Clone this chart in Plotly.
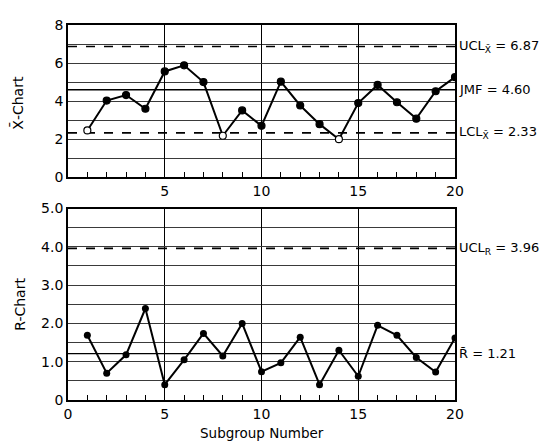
import plotly.graph_objects as go

# ---- data ----
subgroups = list(range(1, 21))
xbar_values = [2.46, 4.03, 4.32, 3.60, 5.56, 5.88, 5.00, 2.18, 3.51, 2.70,
               5.02, 3.77, 2.79, 2.00, 3.90, 4.85, 3.94, 3.08, 4.52, 5.26]
range_values = [1.69, 0.70, 1.18, 2.39, 0.40, 1.05, 1.74, 1.15, 2.00, 0.74,
                0.97, 1.64, 0.40, 1.30, 0.62, 1.95, 1.69, 1.11, 0.73, 1.62]
open_points = [1, 8, 14]
ucl_x = 6.87
jmf = 4.60
lcl_x = 2.33
ucl_r = 3.96
r_bar = 1.21

x_ticks_top = [5, 10, 15, 20]
x_ticks_bottom = [0, 5, 10, 15, 20]
x_minor_ticks = list(range(1, 20))
y_ticks_top = [0, 2, 4, 6, 8]
y_ticks_bottom = [0, 1, 2, 3, 4, 5]
y_ticktext_bottom = ["0", "1.0", "2.0", "3.0", "4.0", "5.0"]

FONT = "DejaVu Sans"
GRID = "#3a3a3a"

fig = go.Figure()

def hline(y, xa, ya, dash, width):
    fig.add_trace(go.Scatter(x=[0, 20], y=[y, y], mode="lines", xaxis=xa, yaxis=ya,
                             line=dict(color="black", width=width, dash=dash),
                             hoverinfo="skip", showlegend=False))

hline(ucl_x, "x", "y", "dash", 1.6)
hline(lcl_x, "x", "y", "dash", 1.6)
hline(jmf, "x", "y", "solid", 1.4)
hline(ucl_r, "x2", "y2", "dash", 1.6)
hline(r_bar, "x2", "y2", "solid", 1.4)

fill_top = ["white" if s in open_points else "black" for s in subgroups]
fig.add_trace(go.Scatter(x=subgroups, y=xbar_values, mode="lines+markers",
                         xaxis="x", yaxis="y",
                         line=dict(color="black", width=2),
                         marker=dict(size=7, color=fill_top, line=dict(color="black", width=1.2)),
                         showlegend=False))
fig.add_trace(go.Scatter(x=subgroups, y=range_values, mode="lines+markers",
                         xaxis="x2", yaxis="y2",
                         line=dict(color="black", width=2),
                         marker=dict(size=7, color="black"),
                         showlegend=False))

axis_common = dict(showline=True, mirror=True, linecolor="black", linewidth=1.8,
                   zeroline=False, tickfont=dict(family=FONT, size=14, color="black"))

xaxis_common = dict(axis_common, range=[0, 20], showgrid=True, gridcolor="black", gridwidth=1.2,
                    ticks="", ticklen=0,
                    minor=dict(tickmode="array", tickvals=x_minor_ticks, ticks="inside",
                               ticklen=5, tickcolor="black", tickwidth=1.4, showgrid=False))

# page body has an 8px margin, so the figure is sized/offset to compensate
fig.update_layout(
    width=545, height=434,
    margin=dict(l=60, r=98, t=9, b=42),
    paper_bgcolor="white", plot_bgcolor="white",
    font=dict(family=FONT, color="black"),
    xaxis=dict(xaxis_common, domain=[0, 1], anchor="y", tickvals=x_ticks_top),
    yaxis=dict(axis_common, domain=[0.594, 1], anchor="x", range=[0, 8],
               tickvals=y_ticks_top, showgrid=True, gridcolor=GRID, gridwidth=1.2, ticks="",
               minor=dict(dtick=1, showgrid=True, gridcolor=GRID, gridwidth=1.2)),
    xaxis2=dict(xaxis_common, domain=[0, 1], anchor="y2", tickvals=x_ticks_bottom),
    yaxis2=dict(axis_common, domain=[0, 0.5105], anchor="x2", range=[0, 5],
                tickvals=y_ticks_bottom, ticktext=y_ticktext_bottom,
                showgrid=True, gridcolor=GRID, gridwidth=1.2, ticks="",
                minor=dict(dtick=0.5, showgrid=True, gridcolor=GRID, gridwidth=1.2)),
)

ann_font = dict(family=FONT, size=13, color="black")
labels = [
    ("y", ucl_x, "UCL<sub>X\u0304</sub> = " + f"{ucl_x:.2f}"),
    ("y", jmf, "JMF = " + f"{jmf:.2f}"),
    ("y", lcl_x, "LCL<sub>X\u0304</sub> = " + f"{lcl_x:.2f}"),
    ("y2", ucl_r, "UCL<sub>R</sub> = " + f"{ucl_r:.2f}"),
    ("y2", r_bar, "R\u0304 = " + f"{r_bar:.2f}"),
]
for ya, yv, txt in labels:
    fig.add_annotation(x=20, y=yv, xref="x" if ya == "y" else "x2", yref=ya,
                       text=txt, showarrow=False, xanchor="left", yanchor="middle", xshift=2,
                       font=ann_font)

title_font = dict(family=FONT, size=14, color="black")
fig.add_annotation(x=-0.129, y=0.793, xref="paper", yref="paper", text="X\u0304-Chart",
                   textangle=-90, showarrow=False, xanchor="center", yanchor="middle",
                   font=title_font)
fig.add_annotation(x=-0.124, y=0.254, xref="paper", yref="paper", text="R-Chart",
                   textangle=-90, showarrow=False, xanchor="center", yanchor="middle",
                   font=title_font)
fig.add_annotation(x=0.5, y=-0.088, xref="paper", yref="paper", text="Subgroup Number",
                   showarrow=False, xanchor="center", yanchor="middle",
                   font=dict(family=FONT, size=13.5, color="black"))

fig.write_html("out.html")
